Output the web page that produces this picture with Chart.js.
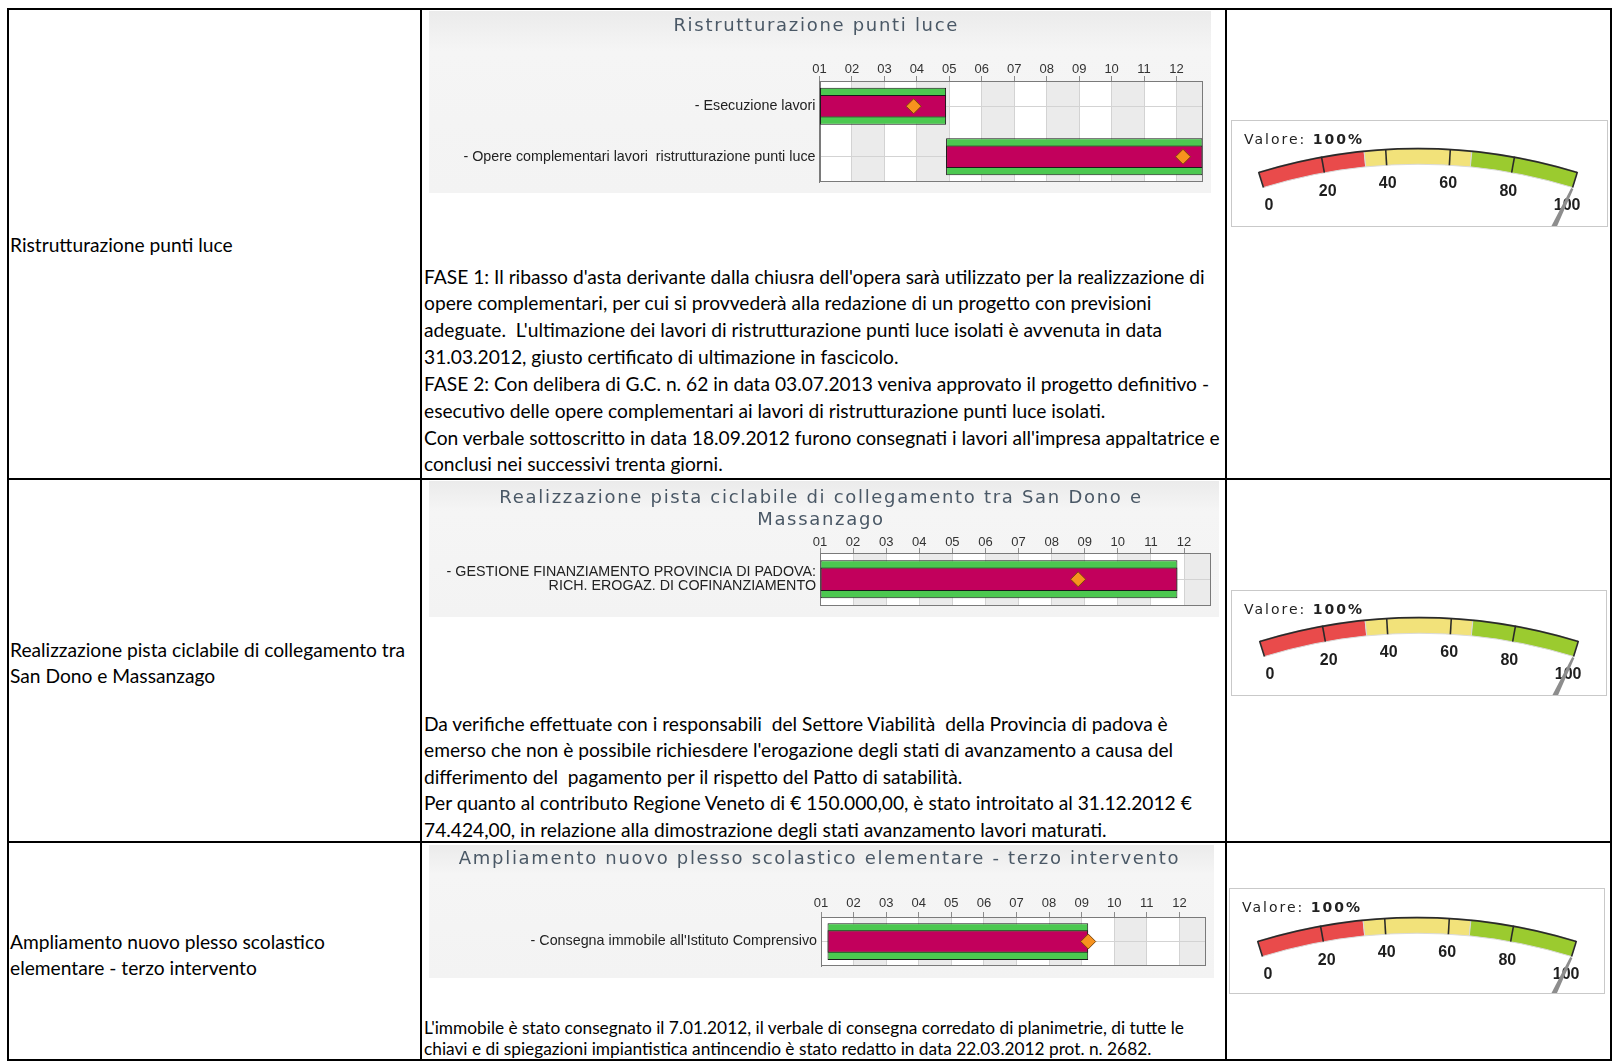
<!DOCTYPE html>
<html lang="it">
<head>
<meta charset="utf-8">
<title>Stato di avanzamento opere pubbliche</title>
<script src="https://cdn.jsdelivr.net/npm/chart.js@4.4.1/dist/chart.umd.min.js"></script>
<style>
  html, body { margin: 0; padding: 0; background: #fff; }
  body { width: 1612px; height: 1062px; position: relative; overflow: hidden;
         font-family: Lato, "Open Sans", sans-serif; color: #000; }
  .line { position: absolute; background: #000; }
  .txt { position: absolute; white-space: nowrap; font-size: 19.2px; }
  .txt.small { font-size: 17.3px; }
  canvas.gantt { position: absolute; left: 429px;
                 background: linear-gradient(#ebebeb, #f5f5f5 22%, #f3f3f3); }
  .gauge { position: absolute; box-sizing: border-box; border: 1px solid #c9c9c9; background: #fff; }
  .gauge canvas { position: absolute; left: 0; top: 0; }
  .valore { position: absolute; left: 12px; top: 10px; line-height: 16px; white-space: nowrap;
            font: 14px "DejaVu Sans", Verdana, sans-serif; letter-spacing: 2px; color: #222; }
</style>
</head>
<body>

<!-- table grid -->
<div class="line" style="left:7px; top:8px; width:1605px; height:2px"></div>
<div class="line" style="left:7px; top:1059px; width:1605px; height:2px"></div>
<div class="line" style="left:7px; top:8px; width:2px; height:1053px"></div>
<div class="line" style="left:1610px; top:8px; width:2px; height:1053px"></div>
<div class="line" style="left:420px; top:8px; width:2px; height:1053px"></div>
<div class="line" style="left:1225px; top:8px; width:2px; height:1053px"></div>
<div class="line" style="left:7px; top:478px; width:1605px; height:2px"></div>
<div class="line" style="left:7px; top:841px; width:1605px; height:2px"></div>

<!-- first column -->
<div class="txt" style="left:10px; top:232px; line-height:25.5px">Ristrutturazione punti luce</div>
<div class="txt" style="left:10px; top:637px; line-height:25.5px">Realizzazione pista ciclabile di collegamento tra<br>San Dono e Massanzago</div>
<div class="txt" style="left:10px; top:929px; line-height:25.5px">Ampliamento nuovo plesso scolastico<br>elementare - terzo intervento</div>

<!-- second column: charts + notes -->
<canvas id="gantt1" class="gantt" width="782" height="182" style="top:11px"></canvas>
<canvas id="gantt2" class="gantt" width="790" height="136" style="top:481px"></canvas>
<canvas id="gantt3" class="gantt" width="785" height="133" style="top:845px"></canvas>

<div class="txt" style="left:424px; top:263.5px; line-height:26.85px">FASE 1: Il ribasso d'asta derivante dalla chiusra dell'opera sarà utilizzato per la realizzazione di<br>opere complementari, per cui si provvederà alla redazione di un progetto con previsioni<br>adeguate.&nbsp; L'ultimazione dei lavori di ristrutturazione punti luce isolati è avvenuta in data<br>31.03.2012, giusto certificato di ultimazione in fascicolo.<br>FASE 2: Con delibera di G.C. n. 62 in data 03.07.2013 veniva approvato il progetto definitivo -<br>esecutivo delle opere complementari ai lavori di ristrutturazione punti luce isolati.<br>Con verbale sottoscritto in data 18.09.2012 furono consegnati i lavori all'impresa appaltatrice e<br>conclusi nei successivi trenta giorni.</div>
<div class="txt" style="left:424px; top:710.5px; line-height:26.5px">Da verifiche effettuate con i responsabili&nbsp; del Settore Viabilità&nbsp; della Provincia di padova è<br>emerso che non è possibile richiesdere l'erogazione degli stati di avanzamento a causa del<br>differimento del&nbsp; pagamento per il rispetto del Patto di satabilità.<br>Per quanto al contributo Regione Veneto di € 150.000,00, è stato introitato al 31.12.2012 €<br>74.424,00, in relazione alla dimostrazione degli stati avanzamento lavori maturati.</div>
<div class="txt small" style="left:424px; top:1017px; line-height:21px">L'immobile è stato consegnato il 7.01.2012, il verbale di consegna corredato di planimetrie, di tutte le<br>chiavi e di spiegazioni impiantistica antincendio è stato redatto in data 22.03.2012 prot. n. 2682.</div>

<!-- third column: gauges -->
<div class="gauge" style="left:1231px; top:120px; width:377px; height:107px">
  <canvas id="gauge1" width="375" height="105"></canvas><div class="valore" id="valore1"></div>
</div>
<div class="gauge" style="left:1231px; top:590px; width:376px; height:106px">
  <canvas id="gauge2" width="374" height="104"></canvas><div class="valore" id="valore2"></div>
</div>
<div class="gauge" style="left:1229px; top:888px; width:376px; height:106px">
  <canvas id="gauge3" width="374" height="104"></canvas><div class="valore" id="valore3"></div>
</div>

<script>
// ---- data (months are 0-based: 0 = start of "01") ----
const monthLabels = ['01', '02', '03', '04', '05', '06', '07', '08', '09', '10', '11', '12'];
const monthSpan = 11.8;

const title1 = ['Ristrutturazione punti luce'];
const tasks1 = ['- Esecuzione lavori', '- Opere complementari lavori  ristrutturazione punti luce'];
const planned1 = [[0, 3.9], [3.9, 11.8]];
const actual1 = [[0, 3.9], [3.9, 11.8]];
const progress1 = [2.9, 11.2];

const title2 = ['Realizzazione pista ciclabile di collegamento tra San Dono e', 'Massanzago'];
const tasks2 = [['- GESTIONE FINANZIAMENTO PROVINCIA DI PADOVA:', 'RICH. EROGAZ. DI COFINANZIAMENTO']];
const planned2 = [[0, 10.8]];
const actual2 = [[0, 10.8]];
const progress2 = [7.8];

const title3 = ['Ampliamento nuovo plesso scolastico elementare - terzo intervento'];
const tasks3 = ["- Consegna immobile all'Istituto Comprensivo"];
const planned3 = [[0.2, 8.2]];
const actual3 = [[0.2, 8.2]];
const progress3 = [8.2];

const gaugeTicks = [0, 20, 40, 60, 80, 100];
const gaugeBands = [33.3, 33.4, 33.3];
const gaugeValues = [100, 100, 100];

// ---- styling ----
const LABEL_FONT = '"Liberation Sans", Arial, sans-serif';
const TITLE_FONT = '"DejaVu Sans", Verdana, sans-serif';
const GRID = '#d3d3d3';
const FRAME = '#7a7a7a';

// white plot with alternating grey month columns, outer frame,
// and letter spacing for the chart title only (tick labels draw on z:1, after it is reset)
const ganttBackdrop = {
    id: 'ganttBackdrop',
    beforeDraw(chart, args, opts) {
        const { ctx, chartArea: a, scales: { x } } = chart;
        ctx.save();
        ctx.fillStyle = '#ffffff';
        ctx.fillRect(a.left, a.top, a.width, a.height);
        ctx.fillStyle = '#ebebeb';
        for (let m = 1; m < x.max; m += 2) {
            const x0 = x.getPixelForValue(m);
            const x1 = x.getPixelForValue(Math.min(m + 1, x.max));
            ctx.fillRect(x0, a.top, x1 - x0, a.height);
        }
        ctx.restore();
        ctx.letterSpacing = opts.titleSpacing || '0px';
    },
    beforeDatasetsDraw(chart) {
        const { ctx, chartArea: a } = chart;
        ctx.letterSpacing = '0px';
        ctx.save();
        ctx.strokeStyle = FRAME;
        ctx.lineWidth = 1;
        ctx.strokeRect(Math.round(a.left) + 0.5, Math.round(a.top) + 0.5,
                       Math.round(a.width) - 1, Math.round(a.height) - 1);
        ctx.restore();
    }
};

function gantt(id, title, tasks, planned, actual, progress, L) {
    const barStyle = {
        borderColor: '#1a1a1a', borderWidth: 1, borderSkipped: false,
        grouped: false, categoryPercentage: 1
    };
    return new Chart(document.getElementById(id), {
        type: 'bar',
        data: {
            labels: tasks,
            datasets: [
                {
                    type: 'scatter', order: 0,
                    data: progress.map((x, i) => ({ x, y: i })),
                    pointStyle: 'rectRot', radius: 7.5,
                    backgroundColor: '#f7921e', borderColor: '#7d4608', borderWidth: 1
                },
                { ...barStyle, order: 1, data: actual, backgroundColor: '#c2005c', barPercentage: L.inner },
                { ...barStyle, order: 2, data: planned, backgroundColor: '#4cc850', barPercentage: L.outer }
            ]
        },
        options: {
            indexAxis: 'y',
            responsive: false,
            animation: false,
            events: [],
            layout: { padding: { left: 0, top: 0, right: L.padRight, bottom: L.padBottom } },
            plugins: {
                legend: { display: false },
                tooltip: { enabled: false },
                title: {
                    display: true, text: title, color: '#4a5866',
                    font: { family: TITLE_FONT, size: 18, weight: 'normal', lineHeight: 1.2 },
                    padding: { top: L.titleTop, bottom: 0 }
                },
                ganttBackdrop: { titleSpacing: '1.7px' }
            },
            scales: {
                x: {
                    type: 'linear', position: 'top', min: 0, max: monthSpan,
                    afterFit: (s) => { s.height = L.axisHeight; },
                    grid: { color: GRID, tickLength: 5, tickColor: '#8c8c8c' },
                    border: { color: FRAME },
                    ticks: {
                        stepSize: 1, includeBounds: false, autoSkip: false, maxRotation: 0,
                        padding: L.tickPad, color: '#333', z: 1,
                        font: { family: LABEL_FONT, size: 13 },
                        callback: (v) => monthLabels[v] ?? ''
                    }
                },
                y: {
                    type: 'category', offset: true,
                    // fixed label column; tall labels must not shrink the plot
                    afterFit: (s) => { s.width = L.axisWidth; s.paddingTop = 0; s.paddingBottom = 0; },
                    grid: { offset: false, color: GRID, drawTicks: false },
                    border: { color: FRAME },
                    ticks: {
                        padding: 4, color: '#222', autoSkip: false, z: 1,
                        font: { family: LABEL_FONT, size: 14.3, lineHeight: 1.02 }
                    }
                }
            }
        },
        plugins: [ganttBackdrop]
    });
}

gantt('gantt1', title1, tasks1, planned1, actual1, progress1, {
    titleTop: 4.5, axisHeight: 43.9, tickPad: -1,
    axisWidth: 390.5, padRight: 7.5, padBottom: 11, outer: 0.73, inner: 0.45
});
gantt('gantt2', title2, tasks2, planned2, actual2, progress2, {
    titleTop: 6.7, axisHeight: 22.1, tickPad: -2,
    axisWidth: 391, padRight: 6, padBottom: 11.5, outer: 0.72, inner: 0.45
});
gantt('gantt3', title3, tasks3, planned3, actual3, progress3, {
    titleTop: 3.2, axisHeight: 47.2, tickPad: 1,
    axisWidth: 392, padRight: 4, padBottom: 12, outer: 0.75, inner: 0.46
});

// ---- gauges: a very wide doughnut arc, rim, ticks, labels and needle ----
const GAUGE_R = 542;
const GAUGE_CUT = 0.97;
const GAUGE_HALF = 17.1;

const gaugeDecor = {
    id: 'gaugeDecor',
    afterDatasetsDraw(chart, args, opts) {
        const { ctx } = chart;
        const arcs = chart.getDatasetMeta(0).data;
        const first = arcs[0], last = arcs[arcs.length - 1];
        const { x: cx, y: cy, outerRadius: R, innerRadius: r } = first;
        const a0 = first.startAngle, a1 = last.endAngle;
        const ang = (v) => a0 + (a1 - a0) * v / 100;
        const pt = (a, rad) => [cx + Math.cos(a) * rad, cy + Math.sin(a) * rad];

        ctx.save();
        ctx.strokeStyle = '#2a2a2a';
        ctx.lineWidth = 1.6;
        ctx.beginPath();
        ctx.arc(cx, cy, R - 0.6, a0, a1);
        ctx.stroke();
        opts.ticks.forEach((v) => {
            ctx.beginPath();
            ctx.moveTo(...pt(ang(v), r));
            ctx.lineTo(...pt(ang(v), R));
            ctx.stroke();
        });

        ctx.fillStyle = '#1e1e1e';
        ctx.font = 'bold 16px "Liberation Sans", Arial, sans-serif';
        ctx.textAlign = 'center';
        ctx.textBaseline = 'middle';
        opts.ticks.forEach((v) => ctx.fillText(String(v), ...pt(ang(v), R - 35)));

        // needle: tapers from the band down towards a pivot below the gauge
        const [tx, ty] = pt(ang(opts.value), r - 1);
        const px = cx, py = cy - R * 0.33;
        const d = Math.hypot(px - tx, py - ty), ux = (px - tx) / d, uy = (py - ty) / d;
        const len = 80, w0 = 1.2, w1 = 3.8;
        ctx.fillStyle = '#8d8d8d';
        ctx.beginPath();
        ctx.moveTo(tx - uy * w0, ty + ux * w0);
        ctx.lineTo(tx + uy * w0, ty - ux * w0);
        ctx.lineTo(tx + ux * len + uy * w1, ty + uy * len - ux * w1);
        ctx.lineTo(tx + ux * len - uy * w1, ty + uy * len + ux * w1);
        ctx.closePath();
        ctx.fill();
        ctx.restore();
    }
};

function gauge(id, value, G) {
    const canvas = document.getElementById(id);
    // arc band bounding box is centred in the chart area by Chart.js
    const bandBox = GAUGE_R - GAUGE_R * GAUGE_CUT * Math.cos(GAUGE_HALF * Math.PI / 180);
    const padBottom = canvas.height - 2 * (G.arcTop + bandBox / 2);
    const padRight = canvas.width - 2 * G.cx;
    document.getElementById('valore' + id.slice(-1)).innerHTML = 'Valore: <b>' + value + '%</b>';
    return new Chart(canvas, {
        type: 'doughnut',
        data: {
            labels: ['basso', 'medio', 'alto'],
            datasets: [{
                data: gaugeBands,
                backgroundColor: ['#e94b4b', '#f2e27a', '#9bcb2f'],
                borderColor: '#dadada',
                borderWidth: 1
            }]
        },
        options: {
            responsive: false,
            animation: false,
            events: [],
            rotation: -GAUGE_HALF,
            circumference: GAUGE_HALF * 2,
            radius: GAUGE_R,
            cutout: (GAUGE_CUT * 100) + '%',
            layout: { padding: { top: 0, left: 0, right: padRight, bottom: padBottom } },
            plugins: {
                legend: { display: false },
                tooltip: { enabled: false },
                gaugeDecor: { ticks: gaugeTicks, value }
            }
        },
        plugins: [gaugeDecor]
    });
}

gauge('gauge1', gaugeValues[0], { arcTop: 27, cx: 186 });
gauge('gauge2', gaugeValues[1], { arcTop: 26, cx: 187 });
gauge('gauge3', gaugeValues[2], { arcTop: 28, cx: 187 });
</script>
</body>
</html>
